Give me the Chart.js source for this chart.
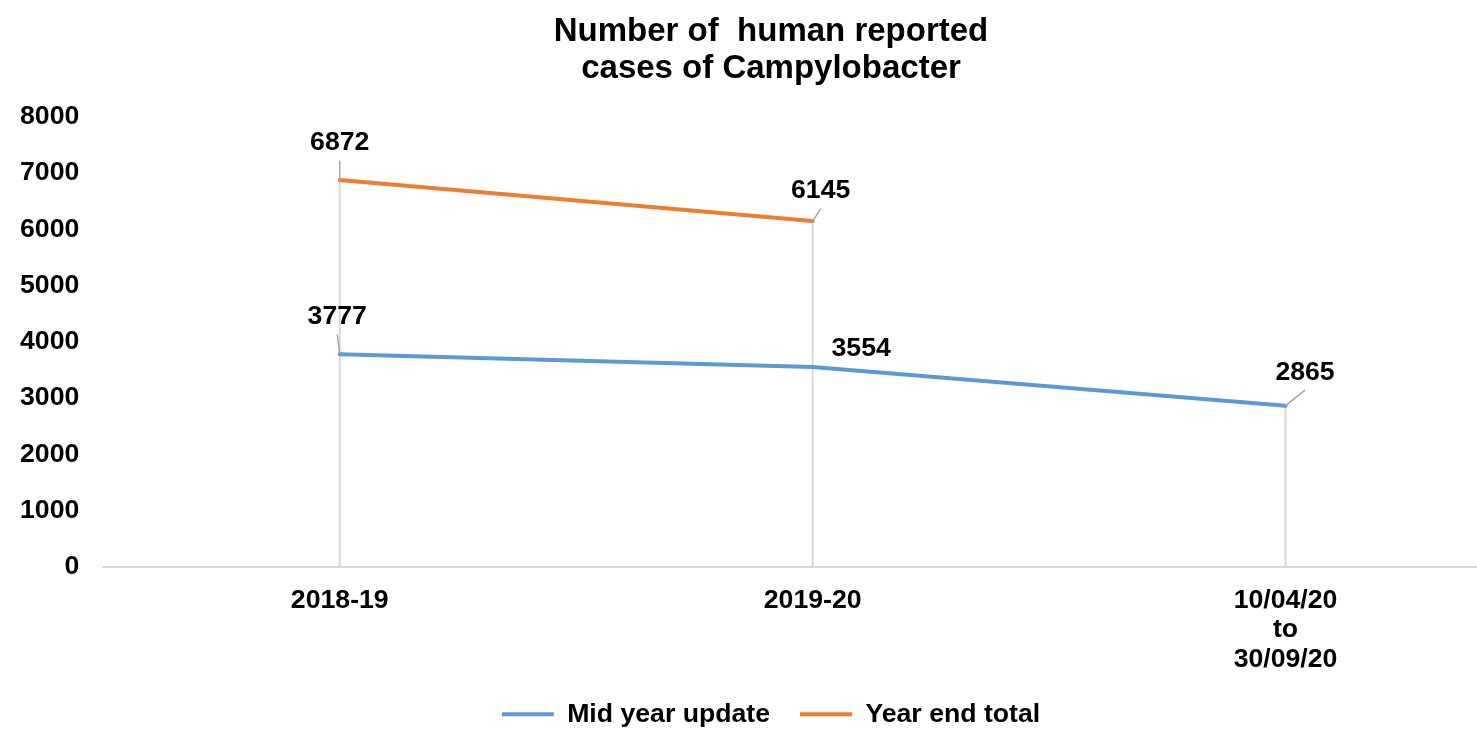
<!DOCTYPE html>
<html>
<head>
<meta charset="utf-8">
<script src="https://cdn.jsdelivr.net/npm/chart.js@4/dist/chart.umd.min.js"></script>
<style>
  html, body { margin: 0; padding: 0; background: #fff; overflow: hidden; }
  #wrap { width: 1552px; height: 730px; }
</style>
</head>
<body>
<div id="wrap"><canvas id="chart" width="1552" height="730"></canvas></div>
<script>
// Campylobacter case counts
var periods = ["2018-19", "2019-20", ["10/04/20", "to", "30/09/20"]];
var midYearUpdate = [3777, 3554, 2865];
var yearEndTotal = [6872, 6145, null];
var yTicks = [0, 1000, 2000, 3000, 4000, 5000, 6000, 7000, 8000];

// label placement relative to each point (px)
var midLabelOffsets = [[-2.5, -39], [48.5, -19], [19.5, -34.5]];
var yearLabelOffsets = [[0, -38.5], [8, -31.5]];

var FONT = "'Liberation Sans', Arial, sans-serif";
var BOLD = { family: FONT, size: 26.67, weight: "bold" };

// vertical drop lines from the top point of each category down to the axis
var dropLines = {
    id: "dropLines",
    beforeDatasetsDraw: function (chart) {
        var ctx = chart.ctx;
        var y0 = chart.scales.y.getPixelForValue(0);
        ctx.save();
        ctx.strokeStyle = "#d9d9d9";
        ctx.lineWidth = 2;
        periods.forEach(function (p, i) {
            var top = null, x = null;
            chart.data.datasets.forEach(function (ds, di) {
                var pt = chart.getDatasetMeta(di).data[i];
                if (ds.data[i] == null || !pt) return;
                x = pt.x;
                if (top === null || pt.y < top) top = pt.y;
            });
            if (top === null) return;
            ctx.beginPath();
            ctx.moveTo(x, top);
            ctx.lineTo(x, y0);
            ctx.stroke();
        });
        ctx.restore();
    }
};

// value labels with leader lines
var valueLabels = {
    id: "valueLabels",
    afterDatasetsDraw: function (chart) {
        var ctx = chart.ctx;
        ctx.save();
        ctx.font = "bold 26.67px " + FONT;
        ctx.textAlign = "center";
        ctx.textBaseline = "middle";
        chart.data.datasets.forEach(function (ds, di) {
            var offs = ds.labelOffsets;
            chart.getDatasetMeta(di).data.forEach(function (pt, i) {
                var v = ds.data[i];
                if (v == null) return;
                var lx = pt.x + offs[i][0];
                var ly = pt.y + offs[i][1];
                if (Math.abs(offs[i][1]) > 25) {
                    ctx.strokeStyle = "#a6a6a6";
                    ctx.lineWidth = 1.5;
                    ctx.beginPath();
                    ctx.moveTo(pt.x, pt.y);
                    ctx.lineTo(lx, ly + 19);
                    ctx.stroke();
                }
                ctx.fillStyle = "#000";
                ctx.fillText(String(v), lx, ly + 1);
            });
        });
        ctx.restore();
    }
};

new Chart(document.getElementById("chart"), {
    type: "line",
    data: {
        labels: periods,
        datasets: [{
            label: "Mid year update",
            data: midYearUpdate,
            labelOffsets: midLabelOffsets,
            borderColor: "#5b9bd5",
            backgroundColor: "#5b9bd5",
            borderWidth: 4,
            borderCapStyle: "round",
            pointRadius: 0,
            pointStyle: "line",
            tension: 0,
            fill: false
        }, {
            label: "Year end total",
            data: yearEndTotal,
            labelOffsets: yearLabelOffsets,
            borderColor: "#ed7d31",
            backgroundColor: "#ed7d31",
            borderWidth: 4,
            borderCapStyle: "round",
            pointRadius: 0,
            pointStyle: "line",
            tension: 0,
            fill: false
        }]
    },
    options: {
        responsive: false,
        animation: false,
        layout: { padding: { left: 20, right: 30, bottom: 0 } },
        plugins: {
            title: {
                display: true,
                text: ["Number of  human reported", "cases of Campylobacter"],
                color: "#000",
                font: { family: FONT, size: 33, weight: "bold", lineHeight: 1.1 },
                padding: { top: 14, bottom: 30 }
            },
            legend: {
                position: "bottom",
                maxHeight: 59,
                labels: {
                    color: "#000",
                    font: BOLD,
                    usePointStyle: true,
                    pointStyleWidth: 52,
                    padding: 30
                }
            },
            tooltip: { enabled: false }
        },
        scales: {
            x: {
                offset: true,
                grid: { display: false, drawTicks: false },
                border: { display: true, color: "#d9d9d9", width: 2 },
                ticks: {
                    color: "#000",
                    font: { family: FONT, size: 26.67, weight: "bold", lineHeight: 1.1 },
                    padding: 19,
                    maxRotation: 0
                },
                afterFit: function (axis) { axis.height -= 22; }
            },
            y: {
                min: 0,
                max: 8000,
                afterBuildTicks: function (axis) {
                    axis.ticks = yTicks.map(function (v) { return { value: v }; });
                },
                grid: { display: false, drawTicks: false },
                border: { display: false },
                ticks: {
                    color: "#000",
                    font: BOLD,
                    padding: 24,
                    callback: function (v) { return String(v); }
                },
                afterFit: function (axis) { axis.width -= 24; }
            }
        }
    },
    plugins: [dropLines, valueLabels]
});
</script>
</body>
</html>
